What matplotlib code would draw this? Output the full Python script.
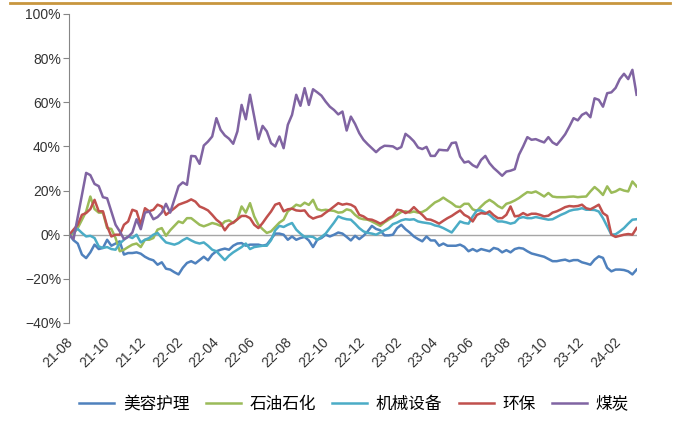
import matplotlib
matplotlib.use("Agg")
import matplotlib.pyplot as plt
import matplotlib.dates as mdates
from matplotlib.lines import Line2D
from matplotlib.ticker import MultipleLocator, FuncFormatter
import pandas as pd

# weekly cumulative change (%) by sector, 2021-08 .. 2024-03
beauty = [0, -2.5, -4, -9, -10.6, -8, -4.5, -6.5, -6, -2.3,
          -5, -4, -3, -9, -8.3, -8.3, -8, -8.6, -10, -11,
          -11.6, -13.6, -12.5, -15.4, -15.8, -17, -18, -15, -12.8, -12,
          -13, -11.5, -10, -11.6, -9, -7.5, -6.8, -6.3, -6.8, -5,
          -4, -3.8, -5, -4.5, -4.5, -4.5, -5, -4.5, -2, 0.5,
          0.5, 0, -2.3, -0.8, -2.3, -1.5, -1, -2.6, -5.6, -2.3,
          -1.5, 0, -0.8, 0, 1, 0.5, -1, -2.6, -0.5, -2,
          -0.5, 1.5, 4, 2.6, 2, -0.3, -0.3, 0, 3, 4.5,
          2.5, 1, -0.8, -2, -3, -0.8, -2.6, -2.6, -5, -4,
          -5, -5, -5, -4.5, -5.5, -7.5, -6.5, -7.5, -6.5, -7,
          -7.5, -6, -6.5, -8, -7, -8, -6.5, -6, -6.3, -7.5,
          -8.5, -9, -9.5, -10, -11, -12, -12, -11.6, -11.3, -12,
          -11.5, -11.5, -12.5, -13, -13.6, -11.3, -9.8, -10.5, -15, -16.6,
          -15.8, -15.8, -16, -16.6, -18, -15.8]

petro = [0, 0.5, 3, 6.8, 10.5, 17.3, 11.6, 10, 10, 3,
         2.6, -1.5, -7.5, -6.8, -5.6, -4.5, -4, -5.6, -2.3, -2.3,
         -1.5, 2.3, 3, -0.5, 2, 4, 6, 5.3, 7.5, 7.5,
         6, 4.5, 3.8, 4.5, 5.3, 4.8, 4, 6, 6.5, 5.3,
         7, 12.8, 10, 14.3, 8.3, 4.5, 2.5, 0.8, 1.5, 3.5,
         5.5, 6.8, 10.6, 12, 13.6, 13, 14.5, 13.5, 15.8, 11.6,
         11, 11.3, 11, 10.8, 10, 10.2, 11.5, 11, 9, 7.5,
         7, 6.8, 6, 5, 4, 5.6, 6.8, 8, 9, 10.3,
         10.6, 10, 10.5, 10, 10.3, 11.3, 13, 14.6, 15.5, 16.8,
         15.5, 14.3, 12.8, 12.5, 14, 14, 11.5, 10.8, 12.8, 14.6,
         15.8, 14.6, 13, 12, 14, 14.6, 15.5, 16.6, 18, 19.3,
         19, 19.6, 18.5, 17.3, 18.9, 17.3, 17, 17, 17, 17.2,
         17.3, 17, 17.2, 17.3, 19.6, 21.6, 20, 18, 21.9, 19,
         19.6, 20.7, 20, 19.6, 24.1, 21.9]

machinery = [0, 1.5, 2.6, 0.8, -0.8, -0.5, -1.5, -5.3, -6, -5.6,
             -6.5, -6.8, -4, -2.3, -0.8, -1.5, 0, -3.5, -2.3, -1.5,
             0, 0.8, -1.5, -3.5, -4, -4.5, -3.8, -2.5, -1.5, -2.6,
             -3.5, -4, -3.5, -5, -6.8, -7.5, -9.5, -11.5, -9.5, -8,
             -6.8, -5.6, -4, -6.5, -5.6, -5.3, -5, -5, -2.5, 2,
             4, 3.5, 4.5, 5.3, 2.3, 0.5, -1, -0.8, -1, -2.3,
             -1, 0.5, 3, 5.5, 8.3, 7.5, 7, 6.8, 5, 3,
             1.5, 0.8, 0.5, 0, 1, 2, 3, 4.8, 5.5, 6.5,
             7, 6.8, 7, 6, 5.6, 5.3, 5, 4.2, 3.8, 3,
             2, 1, 3.5, 6, 5.3, 5, 8.3, 11, 11, 10,
             9, 7.3, 6, 6, 5.6, 5, 5.5, 7.5, 8, 7.5,
             7.5, 8, 7.6, 7.2, 6.8, 7, 8, 9, 9.8, 10.8,
             11.3, 11.5, 12, 11.3, 11.3, 11.2, 10.5, 7.5, 3.8, 0,
             0.2, 1.5, 3, 5, 6.8, 7]

environ = [0, 2.3, 4.5, 9, 9.8, 11.6, 15.8, 10.6, 10.6, 3.8,
           -0.8, 0, 0, 4.5, 6, 11.3, 10.6, 4.5, 12, 10.6,
           11.3, 13.6, 12.8, 9, 10.5, 12, 13.6, 14.3, 15, 16,
           15, 12.8, 12, 11, 9, 6.8, 5.3, 2, 4.5, 5.5,
           7, 8.5, 8.5, 7.5, 4.5, 3, 5.3, 8, 10.5, 13.6,
           14.3, 10.6, 11.5, 11.8, 11, 10.8, 11, 8.5, 7.3, 8,
           8.5, 10, 11.3, 12.8, 14.3, 13.6, 14, 13.6, 12.5, 9,
           8.3, 7, 6.8, 6, 5, 6, 7.5, 8.5, 11.3, 11,
           9.8, 10.6, 12.5, 10.6, 9, 7, 6.8, 6, 5, 6.3,
           7.5, 8.5, 9.8, 11, 9, 8, 6, 9, 9.8, 9.5,
           10.6, 8.8, 7.5, 7.5, 9, 12.8, 8.3, 8.6, 9.8, 8.8,
           9.5, 9.5, 9, 8.3, 8.6, 10, 10.6, 11.5, 12.5, 13,
           12.8, 13, 13.6, 12, 11.5, 12.5, 13.6, 9.8, 8.5, 0,
           -1, -0.5, 0, 0.3, 0, 3]

coal = [0, -2, 8, 18, 28, 27, 23, 22, 17, 16.5,
        10.5, 4.5, 1.5, -2, -1, 1, 7, 2.5, 10, 10.5,
        7, 8, 10, 14, 10, 16, 22, 23.7, 22.6, 35.7,
        35.5, 32.1, 40.4, 42.2, 44.5, 52.8, 47.5, 45, 43.5, 41.2,
        46.8, 58.8, 52.3, 63.4, 53.5, 43.3, 49.3, 46.8, 41.5, 40,
        44.5, 39.2, 49.8, 54.3, 63.4, 58.4, 66.4, 58.8, 65.9, 64.5,
        63, 60.3, 58, 56.5, 54.5, 55.8, 47.2, 53.5, 50.2, 46,
        43, 41, 39.2, 37.4, 39.2, 40.3, 40.2, 40, 38.8, 39.7,
        45.7, 44.2, 42.3, 39.5, 38.8, 39.8, 35.7, 35.7, 38.5, 38.3,
        38.2, 41.5, 41.8, 35.4, 32.7, 33.2, 31.5, 30.5, 33.9, 35.7,
        32.4, 30.2, 28.5, 26.7, 28.6, 29, 29.7, 36.2, 40, 44.2,
        43, 43.3, 42.5, 41.8, 44.2, 41.8, 40.7, 43, 45.5, 49,
        52.8, 51.8, 54.3, 55.3, 53.2, 61.8, 61.1, 58, 64.1, 64.5,
        66.5, 70.5, 72.9, 70.5, 74.7, 63.4]

names = ["美容护理", "石油石化", "机械设备", "环保", "煤炭"]
colors = ["#4F81BD", "#9BBB59", "#4BACC6", "#C0504D", "#8064A2"]
series = [beauty, petro, machinery, environ, coal]

dates = pd.date_range("2021-07-30", periods=len(coal), freq="7D")

plt.rcParams['font.family'] = ['Liberation Sans', 'Noto Sans CJK SC', 'DejaVu Sans']

fig = plt.figure(figsize=(6.81, 4.21), dpi=100)
ax = fig.add_axes([0.1018, 0.2328, 0.833, 0.734])

ax.axhline(0, color="#A6A6A6", lw=1.0, zorder=1)
for name, vals, c in zip(names, series, colors):
    ax.plot(dates, vals, color=c, lw=1.8, label=name, zorder=2)

ax.set_xlim(dates[0], dates[-1])
ax.set_ylim(-40, 100)
ax.yaxis.set_major_locator(MultipleLocator(20))
ax.yaxis.set_major_formatter(FuncFormatter(lambda v, p: f"{v:.0f}%".replace("-", "\u2212")))
ax.xaxis.set_major_locator(mdates.MonthLocator(bymonth=[2, 4, 6, 8, 10, 12]))
ax.xaxis.set_major_formatter(mdates.DateFormatter("%y-%m"))

for s in ["top", "right", "bottom"]:
    ax.spines[s].set_visible(False)
ax.spines["left"].set_color("#868686")
ax.tick_params(axis="y", direction="out", length=4, color="#868686",
               labelsize=10, labelcolor="#333333", pad=2)
ax.tick_params(axis="x", length=0, labelsize=10, labelcolor="#333333", pad=12)
for lab in ax.get_xticklabels():
    lab.set_rotation(45)
    lab.set_ha("right")
    lab.set_va("center")
    lab.set_rotation_mode("anchor")

fig.legend(loc="center", bbox_to_anchor=(0.52, 0.04), ncol=5, frameon=False,
           prop={"family": "Noto Sans CJK SC", "size": 12},
           handlelength=2.1, handletextpad=0.5, columnspacing=1.0)

fig.add_artist(Line2D([10 / 681, 670 / 681], [1 - 3 / 421] * 2,
                      color="#C8963E", lw=2))

fig.savefig("out.png", dpi=100)
